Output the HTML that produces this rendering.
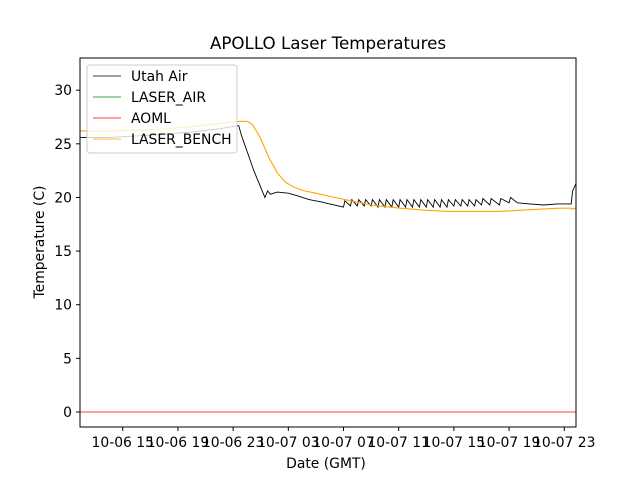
<!DOCTYPE html>
<html><head><meta charset="utf-8"><style>
body{margin:0;background:#fff}
svg text{font-family:"DejaVu Sans","Liberation Sans",sans-serif;fill:#000}
</style></head><body>
<svg id="chart" width="640" height="480" xmlns="http://www.w3.org/2000/svg">
<rect width="640" height="480" fill="#fff"/>
<text x="328" y="49" font-size="16.7" text-anchor="middle">APOLLO Laser Temperatures</text>
<g id="plot"></g>
<rect x="80" y="58" width="496" height="369" fill="none" stroke="#000" stroke-width="1"/>
<text x="326" y="468" font-size="13.9" text-anchor="middle">Date (GMT)</text>
<text x="44" y="242" font-size="13.9" text-anchor="middle" transform="rotate(-90 44 242)">Temperature (C)</text>
<g>
<rect x="87" y="65" width="150" height="88" rx="3" fill="#fff" fill-opacity="0.8" stroke="#ccc"/>
<line x1="93" y1="76" x2="121" y2="76" stroke="#000" stroke-width="0.8"/>
<text x="131" y="81" font-size="13.9">Utah Air</text>
<line x1="93" y1="97" x2="121" y2="97" stroke="green" stroke-width="0.8"/>
<text x="131" y="102" font-size="13.9">LASER_AIR</text>
<line x1="93" y1="118" x2="121" y2="118" stroke="red" stroke-width="0.8"/>
<text x="131" y="123" font-size="13.9">AOML</text>
<line x1="93" y1="139" x2="121" y2="139" stroke="orange" stroke-width="0.8"/>
<text x="131" y="144" font-size="13.9">LASER_BENCH</text>
</g>
</svg>
<script>
// hours since 10-06 00:00 GMT
const xTickHours=[15,19,23,27,31,35,39,43,47];
const xTickLabels=["10-06 15","10-06 19","10-06 23","10-07 03","10-07 07","10-07 11","10-07 15","10-07 19","10-07 23"];
const yTicks=[0,5,10,15,20,25,30];
const benchHours=[11.9,14,17,20,22,23.5,24.0,24.4,25.0,25.6,26.2,26.8,27.5,28.2,29,30,31.5,33,35.1,37,38.7,40.5,42.3,43.8,45.2,46.7,47.5,47.55,47.85];
const benchTemps=[26.2,26.2,26.3,26.6,26.9,27.1,27.1,26.8,25.5,23.7,22.3,21.4,20.9,20.6,20.4,20.1,19.7,19.3,19.0,18.8,18.7,18.7,18.7,18.8,18.9,19.0,19.0,18.9,19.0];
const airHours=[11.9,14,17,20,22,23.4,23.6,24.5,25.3,25.5,25.7,26.2,27,27.8,28.5,29.3,30.0,31.0,31.1,31.5,31.6,32.0,32.1,32.5,32.6,33.0,33.1,33.5,33.6,34.0,34.1,34.5,34.6,35.0,35.1,35.5,35.6,36.0,36.1,36.5,36.6,37.0,37.1,37.5,37.6,38.0,38.1,38.5,38.6,39.0,39.1,39.5,39.6,40.0,40.1,40.5,40.6,41.0,41.1,41.6,41.7,42.3,42.4,43.0,43.1,43.6,44.5,45.5,46.5,47.5,47.6,47.85];
const airTemps=[25.6,25.6,25.8,26.1,26.4,26.7,25.8,22.5,20.0,20.6,20.3,20.5,20.4,20.1,19.8,19.6,19.4,19.1,19.7,19.2,19.8,19.2,19.8,19.2,19.8,19.2,19.8,19.1,19.8,19.1,19.8,19.1,19.8,19.1,19.8,19.1,19.8,19.1,19.8,19.1,19.8,19.1,19.8,19.1,19.8,19.1,19.8,19.1,19.8,19.2,19.8,19.2,19.8,19.2,19.8,19.2,19.8,19.3,19.9,19.3,19.9,19.3,19.9,19.5,20.0,19.5,19.4,19.3,19.4,19.4,20.6,21.3];
const aomlTemps=[0,0];
const aomlHours=[11.9,47.85];

const X0=80,X1=576,Y0=427,Y1=58,HMIN=11.9,HMAX=47.85,TMIN=-1.4,TMAX=33;
const xs=h=>X0+(h-HMIN)/(HMAX-HMIN)*(X1-X0);
const ys=t=>Y0-(t-TMIN)/(TMAX-TMIN)*(Y0-Y1);
const NS="http://www.w3.org/2000/svg";
const plot=document.getElementById('plot');
function mk(tag,attrs){const e=document.createElementNS(NS,tag);for(const k in attrs)e.setAttribute(k,attrs[k]);return e;}
xTickHours.forEach((h,i)=>{
  const l=mk('line',{x1:xs(h),x2:xs(h),y1:Y0,y2:Y0+4,stroke:'#000'});
  
  
  plot.appendChild(l);
  const t=mk('text',{x:xs(h),y:Y0+20,'font-size':13.9,'text-anchor':'middle'});
  t.textContent=xTickLabels[i];
  
  
  plot.appendChild(t);
});
yTicks.forEach(v=>{
  const l=mk('line',{x1:X0-4,x2:X0,y1:ys(v),y2:ys(v),stroke:'#000'});
  
  
  plot.appendChild(l);
  const t=mk('text',{x:X0-8,y:ys(v)+5,'font-size':13.9,'text-anchor':'end'});
  t.textContent=v;
  
  
  plot.appendChild(t);
});
function line(hs,ts,color,w){return mk('polyline',{points:hs.map((h,i)=>xs(h).toFixed(1)+','+ys(ts[i]).toFixed(1)).join(' '),fill:'none',stroke:color,'stroke-width':w});}
const a=line(aomlHours,aomlTemps,'red',0.8);


plot.appendChild(a);
const u=line(airHours,airTemps,'#000',0.9);


plot.appendChild(u);
const b=line(benchHours,benchTemps,'orange',1.1);


plot.appendChild(b);
</script>
</body></html>
